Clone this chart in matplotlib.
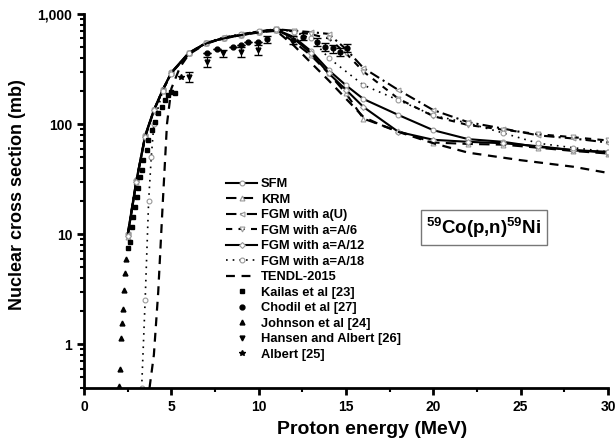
import matplotlib
matplotlib.use("Agg")
import matplotlib.pyplot as plt
from matplotlib.ticker import FixedLocator, FuncFormatter, NullFormatter, MultipleLocator

plt.rcParams['font.family'] = ['Liberation Sans', 'DejaVu Sans']
plt.rcParams['font.weight'] = 'bold'
plt.rcParams['mathtext.fontset'] = 'custom'
plt.rcParams['mathtext.rm'] = 'Liberation Sans:bold'
plt.rcParams['mathtext.bf'] = 'Liberation Sans:bold'

# model curves (MeV, mb)
e_main = [2.5, 3, 3.5, 4, 4.5, 5, 6, 7, 8, 9, 10, 11, 12, 13, 14, 15, 16, 18, 20, 22, 24, 26, 28, 30]
sfm = [10, 31, 79, 135, 205, 295, 445, 545, 605, 648, 688, 722, 620, 460, 310, 225, 169, 121, 88, 73, 69, 62, 58, 56]
krm = [9.5, 30, 76, 132, 200, 290, 440, 540, 600, 642, 682, 718, 560, 420, 290, 190, 112, 86, 68, 66, 65, 61, 57, 54]
fgm_au = [10, 31, 78, 134, 204, 292, 442, 548, 612, 655, 695, 728, 705, 685, 660, 480, 323, 204, 134, 104, 91, 79, 74, 68]
fgm_a6 = [9.8, 30, 77, 133, 202, 290, 438, 542, 606, 650, 690, 725, 695, 655, 600, 440, 300, 170, 118, 98, 89, 81, 76, 71]
fgm_a12 = [9.6, 30, 77, 133, 203, 292, 443, 546, 602, 645, 685, 720, 600, 440, 290, 205, 143, 85, 72, 69, 67, 63, 58, 55]

e_a18 = [3.3, 3.5, 3.7, 3.85, 4, 4.5, 5, 6, 7, 8, 9, 10, 11, 12, 13, 14, 16, 18, 20, 22, 24, 26, 28, 30]
fgm_a18 = [0.4, 2.5, 20, 50, 100, 200, 288, 440, 545, 610, 655, 698, 730, 690, 600, 400, 226, 165, 120, 102, 83, 67, 61, 56]

e_tendl = [3.75, 4, 4.25, 4.5, 4.75, 5, 5.5, 6, 7, 8, 9, 10, 11, 12, 13, 14, 15, 16, 17, 18, 20, 22, 25, 28, 30]
tendl = [0.4, 0.8, 3, 18, 100, 210, 330, 430, 540, 600, 645, 680, 705, 520, 360, 250, 170, 116, 98, 85, 67, 55, 47, 41, 36]

# experimental data
e_kailas = [2.5, 2.63, 2.73, 2.8, 2.92, 3.01, 3.1, 3.2, 3.3, 3.4, 3.58, 3.67, 3.87, 4.06, 4.25, 4.44, 4.64, 4.82, 5.0, 5.2]
s_kailas = [7.5, 8.5, 11.6, 14.2, 17.8, 21.8, 26.4, 33, 38, 47, 58, 72, 88, 104, 126, 143, 166, 183, 196, 191]

e_chodil = [7.02, 7.6, 8.55, 8.97, 9.4, 9.98, 10.46, 11.98, 12.55, 13.32, 13.8, 14.27, 14.65, 15.04]
s_chodil = [440, 478, 505, 523, 560, 560, 590, 580, 621, 560, 505, 487, 455, 490]
err_chodil = [0, 0, 0, 0, 0, 0, 40, 45, 45, 45, 40, 40, 40, 40]

e_johnson = [1.98, 2.05, 2.1, 2.16, 2.21, 2.29, 2.35, 2.42]
s_johnson = [0.42, 0.6, 1.15, 1.55, 2.1, 3.1, 4.4, 6.0]

e_hansen = [6.03, 7.02, 7.98, 8.97, 9.98]
s_hansen = [269, 368, 440, 455, 470]
err_hansen = [30, 36, 30, 45, 50]

e_albert = [5.53]
s_albert = [269]

fig = plt.figure(figsize=(6.15, 4.45), dpi=100)
ax = fig.add_axes([0.1366, 0.128, 0.852, 0.8405])

mk = dict(markersize=3.5, markerfacecolor='white', markeredgecolor='#999999', markeredgewidth=0.8)
ax.plot(e_main, sfm, color='black', lw=1.5, ls='-', marker='o', label='SFM', **mk)
ax.plot(e_main, krm, color='black', lw=1.5, ls=(0, (5, 3)), marker='^', label='KRM', **mk)
ax.plot(e_main, fgm_au, color='black', lw=1.5, ls=(0, (5, 2, 1, 2)), marker='<', label='FGM with a(U)', **mk)
ax.plot(e_main, fgm_a6, color='black', lw=1.5, ls=(0, (3, 3)), marker='v', label='FGM with a=A/6', **mk)
ax.plot(e_main, fgm_a12, color='black', lw=1.5, ls='-', marker='D', label='FGM with a=A/12', **dict(mk, markersize=3))
ax.plot(e_a18, fgm_a18, color='black', lw=1.2, ls=(0, (1, 3)), marker='o', label='FGM with a=A/18', **mk)
ax.plot(e_tendl, tendl, color='black', lw=1.6, ls=(0, (4, 3)), label='TENDL-2015')

ax.errorbar(e_chodil, s_chodil, yerr=err_chodil, fmt='none', ecolor='black', elinewidth=0.8, capsize=3)
ax.errorbar(e_hansen, s_hansen, yerr=err_hansen, fmt='none', ecolor='black', elinewidth=0.8, capsize=3)
ax.plot(e_kailas, s_kailas, ls='none', marker='s', color='black', markersize=3.5, label='Kailas et al [23]')
ax.plot(e_chodil, s_chodil, ls='none', marker='o', color='black', markersize=3.5, label='Chodil et al [27]')
ax.plot(e_johnson, s_johnson, ls='none', marker='^', color='black', markersize=3.5, label='Johnson et al [24]')
ax.plot(e_hansen, s_hansen, ls='none', marker='v', color='black', markersize=3.5, label='Hansen and Albert [26]')
ax.plot(e_albert, s_albert, ls='none', marker='*', color='black', markersize=4, label='Albert [25]')

ax.set_yscale('log')
ax.set_xlim(0, 30)
ax.set_ylim(0.4, 1000)
ax.yaxis.set_major_locator(FixedLocator([1, 10, 100, 1000]))
ax.yaxis.set_major_formatter(FuncFormatter(lambda v, _: f"{v:,.0f}"))
ax.yaxis.set_minor_formatter(NullFormatter())
ax.xaxis.set_major_locator(MultipleLocator(5))
ax.xaxis.set_minor_locator(MultipleLocator(2.5))

for side in ['top', 'right']:
    ax.spines[side].set_visible(False)
for side in ['left', 'bottom']:
    ax.spines[side].set_linewidth(2)
ax.tick_params(which='major', direction='out', length=5, width=2, labelsize=10)
ax.tick_params(which='minor', direction='out', length=3, width=1.5)

ax.set_xlabel('Proton energy (MeV)', fontsize=14, fontweight='bold')
ax.xaxis.set_label_coords(0.55, -0.088)
ax.set_ylabel('Nuclear cross section (mb)', fontsize=13, fontweight='bold')
ax.yaxis.set_label_coords(-0.11, 0.516)

ax.legend(loc='upper left', bbox_to_anchor=(226 / 615, 1 - 178 / 445), bbox_transform=fig.transFigure,
          frameon=False, fontsize=9.3, labelspacing=0.27, handlelength=2.4, handletextpad=0.3,
          borderpad=0, borderaxespad=0)

ax.text(0.763, 0.43, r'$^{59}$Co(p,n)$^{59}$Ni', transform=ax.transAxes, ha='center', va='center',
        fontsize=13.5, fontweight='bold',
        bbox=dict(boxstyle='square,pad=0.28', facecolor='white', edgecolor='#777777', linewidth=1))

fig.savefig('out.png', dpi=100)
